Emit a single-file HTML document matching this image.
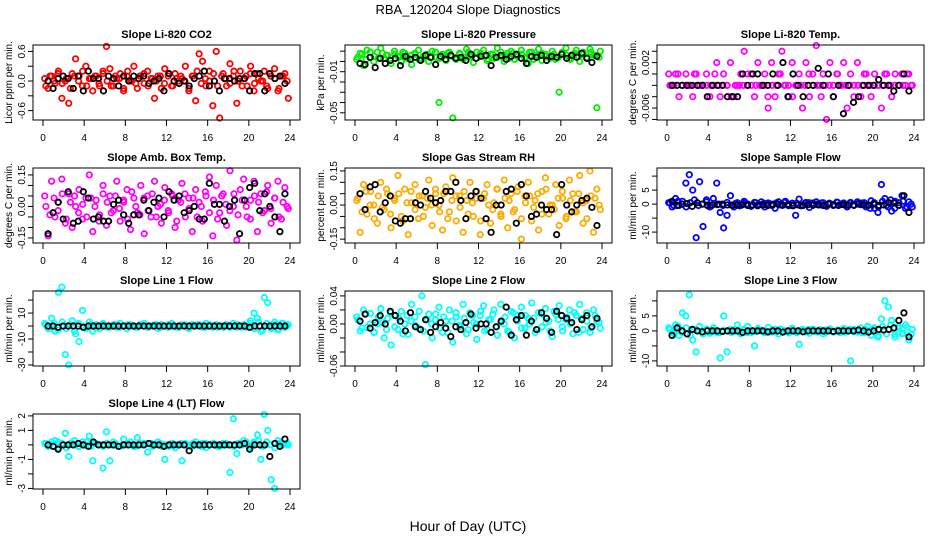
<!DOCTYPE html>
<html><head><meta charset="utf-8"><style>
html,body{margin:0;padding:0;background:#fff;}
svg{display:block;font-family:"Liberation Sans",sans-serif;}
</style></head><body>
<svg id="chart" width="936" height="540" viewBox="0 0 936 540">
<text x="468" y="14" text-anchor="middle" font-size="13">RBA_120204  Slope Diagnostics</text>
<text x="468" y="531" text-anchor="middle" font-size="14">Hour of Day (UTC)</text>
</svg>
<script>
// ---- data ----
const xTicks = [0,4,8,12,16,20,24];
const co2Color = [0.05,-0.15,0.1,-0.05,0.2,-0.35,0.0,-0.45,0.15,0.45,0.1,-0.1,0.3,0.05,-0.2,0.1,-0.1,0.2,0.7,0.25,-0.1,0.05,0.15,-0.2,0.1,0.0,0.3,-0.15,0.1,-0.05,0.2,0.05,-0.35,0.1,-0.15,0.25,0.1,-0.1,0.15,0.0,0.05,0.3,-0.2,0.1,-0.4,0.55,0.4,-0.1,0.2,-0.5,0.6,-0.75,0.15,-0.1,0.35,0.1,-0.45,0.2,0.05,-0.1,0.3,-0.2,0.15,0.0,0.2,-0.15,0.1,0.25,-0.2,0.1,0.15,-0.35];
const co2Band = [-0.1,0.1,0.0,0.15,-0.05,0.05,-0.15,0.1,0.0,0.2,-0.1,0.05,0.1,-0.05,0.15,0.0,-0.1,0.1,0.05,-0.15,0.2,0.0,-0.05,0.1,0.15,-0.1,0.05,0.0,0.1,-0.05,0.15,-0.1,0.05,0.1,0.0,-0.15,0.1,0.2,-0.05,0.05,0.0,0.15,-0.1,0.1,0.05,-0.05,0.2,0.0,-0.1,0.1,0.15,-0.05,0.05,0.0,-0.1,0.1,0.05,-0.15,0.1,0.0];
const co2Black = [0.0,-0.15,0.05,0.1,0.05,-0.15,0.1,-0.2,0.2,0.05,0.05,-0.2,0.1,0.05,-0.1,0.1,0.0,0.1,0.05,0.1,-0.05,0.0,0.05,-0.2,0.15,0.0,-0.05,0.0,-0.1,0.05,0.1,0.2,-0.1,0.0,-0.2,0.05,0.05,0.0,0.05,0.05,-0.2,0.15,0.15,-0.2,0.15,0.05,0.1,-0.05];
const presColor = [0.002,0.008,-0.004,0.011,0.004,0.0,0.009,0.013,0.003,0.006,-0.002,0.01,0.005,0.0,0.008,0.003,-0.003,0.007,0.011,0.002,0.006,0.0,0.01,0.004,-0.04,0.007,0.001,0.009,-0.055,0.004,0.008,0.002,0.012,0.005,-0.001,0.009,0.006,0.011,0.001,0.007,0.003,0.013,0.005,0.0,0.008,0.01,0.002,0.006,0.011,0.003,-0.002,0.009,0.005,0.012,0.001,0.007,0.004,0.01,0.002,-0.03,0.008,0.013,0.003,0.006,0.011,0.0,0.009,0.004,0.012,0.006,-0.045,0.01];
const presBand = [0.004,0.007,0.002,0.009,0.005,0.003,0.008,0.006,0.001,0.007,0.004,0.009,0.003,0.006,0.008,0.002,0.005,0.007,0.004,0.009,0.003,0.006,0.008,0.005,0.002,0.007,0.004,0.009,0.006,0.003,0.008,0.005,0.002,0.007,0.004,0.009,0.006,0.003,0.008,0.005,0.007,0.004,0.009,0.002,0.006,0.008,0.005,0.003,0.007,0.004,0.009,0.006,0.002,0.008,0.005,0.007,0.003,0.009,0.006,0.004];
const presBlack = [-0.002,-0.003,0.004,-0.006,0.003,-0.002,0.001,0.003,-0.004,0.005,0.002,0.004,0.001,0.006,0.004,-0.003,0.005,0.002,0.006,0.003,0.004,0.001,0.007,0.003,0.005,0.006,-0.004,0.004,0.006,0.002,0.005,0.007,0.003,-0.002,0.005,0.004,0.006,0.001,0.005,0.004,0.007,0.003,0.006,0.004,0.008,0.003,-0.001,0.005];
const tempColor = [0.0,-0.002,0.0,-0.004,-0.002,0.0,-0.002,-0.004,0.0,-0.002,-0.002,0.0,-0.004,-0.002,0.002,-0.004,0.0,-0.002,0.002,-0.004,-0.002,0.0,0.004,-0.002,0.0,-0.004,0.002,-0.002,0.0,-0.006,0.002,-0.004,0.0,0.004,-0.002,-0.004,0.002,-0.002,0.0,-0.006,0.002,-0.004,0.0,0.005,-0.002,0.0,-0.008,0.002,-0.004,0.0,-0.002,0.002,-0.006,0.0,-0.002,0.002,-0.004,0.0,-0.002,-0.004,0.0,-0.002,-0.006,0.0,-0.002,-0.004,0.0,-0.002,0.0,-0.002,0.0,-0.002];
const tempBand = [-0.002,-0.002,0.0,-0.002,-0.002,-0.002,0.0,-0.002,-0.002,-0.002,-0.002,0.0,-0.002,-0.002,-0.002,-0.004,-0.002,-0.002,-0.002,0.0,-0.002,-0.002,-0.002,-0.002,-0.004,-0.002,-0.002,0.0,-0.002,-0.002,-0.004,-0.002,-0.002,-0.002,0.0,-0.002,-0.002,-0.004,-0.002,-0.002,-0.002,0.0,-0.002,-0.002,-0.002,-0.004,-0.002,-0.002,0.0,-0.002,-0.002,-0.002,-0.002,0.0,-0.002,-0.002,-0.002,-0.002,0.0,-0.002];
const tempBlack = [-0.002,-0.002,-0.002,-0.002,-0.002,-0.002,-0.002,-0.004,-0.002,-0.002,-0.002,-0.004,-0.004,-0.004,0.0,-0.002,0.0,0.0,-0.002,-0.002,0.0,-0.002,0.002,-0.004,0.0,-0.002,-0.004,-0.002,-0.002,0.001,-0.002,0.0,-0.004,-0.002,-0.007,-0.002,-0.005,-0.004,-0.002,-0.002,-0.002,-0.001,-0.002,-0.002,-0.003,-0.002,0.0,-0.003];
const ambColor = [0.05,-0.14,0.12,-0.05,0.02,0.13,-0.08,0.06,-0.1,0.0,0.08,-0.06,0.04,0.15,-0.12,0.03,-0.04,0.1,-0.09,0.05,-0.02,0.12,-0.07,0.02,0.08,-0.11,0.04,-0.03,0.1,-0.13,0.05,-0.05,0.12,0.0,-0.08,0.09,-0.02,0.06,-0.1,0.03,0.11,-0.05,0.04,-0.12,0.08,0.02,-0.07,0.05,0.14,-0.14,0.1,-0.03,0.06,-0.09,0.17,0.0,-0.16,0.08,0.13,-0.05,0.03,0.12,-0.12,0.06,-0.02,0.1,-0.08,0.04,0.12,-0.06,0.09,-0.01];
const ambBand = [0.0,-0.04,0.04,-0.02,0.06,-0.06,0.02,0.05,-0.03,0.01,-0.05,0.04,0.0,-0.07,0.06,0.02,-0.03,0.05,-0.01,0.03,-0.06,0.07,0.0,-0.04,0.04,-0.02,0.06,-0.05,0.01,0.03,-0.03,0.05,-0.07,0.02,0.06,-0.01,0.04,-0.05,0.0,0.07,-0.03,0.03,-0.06,0.05,0.01,-0.02,0.06,-0.04,0.03,0.0,-0.06,0.05,0.02,-0.03,0.07,-0.01,0.04,-0.05,0.02,0.0];
const ambBlack = [-0.13,-0.03,0.02,-0.06,0.07,-0.08,-0.07,0.07,0.04,-0.06,-0.05,-0.07,-0.07,0.01,0.03,-0.04,-0.08,-0.04,-0.04,0.03,-0.02,0.02,0.04,-0.05,0.07,0.03,0.05,-0.03,-0.02,0.0,-0.06,-0.06,0.11,0.01,0.01,-0.07,0.0,0.03,-0.13,0.03,0.09,0.11,-0.02,0.06,0.0,-0.05,-0.12,0.06];
const rhColor = [0.02,-0.12,0.09,-0.04,0.06,0.0,-0.08,0.1,-0.02,0.05,-0.1,0.03,0.13,-0.05,0.07,-0.13,0.01,0.09,-0.06,0.04,-0.01,0.11,-0.09,0.05,0.0,-0.11,0.08,-0.03,0.12,-0.07,0.04,-0.12,0.02,0.1,-0.05,0.06,-0.13,0.03,0.09,-0.08,0.01,0.07,-0.04,0.11,-0.1,0.05,-0.02,0.08,-0.15,0.04,0.1,-0.07,0.02,-0.11,0.06,0.12,-0.04,0.0,0.09,-0.09,0.03,-0.06,0.11,0.05,-0.03,0.13,-0.08,0.02,0.15,-0.12,0.07,-0.02];
const rhBand = [0.03,-0.03,0.06,0.0,-0.06,0.04,-0.01,0.07,-0.04,0.02,0.05,-0.07,0.01,0.06,-0.02,0.04,-0.05,0.03,0.0,0.07,-0.03,0.05,-0.06,0.02,0.04,-0.01,0.06,-0.04,0.01,0.03,-0.07,0.05,0.0,-0.02,0.07,-0.05,0.03,0.02,-0.03,0.06,-0.06,0.01,0.04,-0.01,0.05,-0.04,0.07,0.0,-0.02,0.03,0.06,-0.05,0.02,-0.03,0.05,0.01,-0.06,0.04,0.03,0.0];
const rhBlack = [0.05,-0.02,0.08,0.09,-0.03,0.01,0.04,-0.07,-0.08,-0.06,-0.06,0.01,0.0,0.06,0.03,0.01,0.02,0.06,0.06,0.1,0.02,-0.06,0.04,0.06,0.03,-0.06,-0.12,0.0,0.0,0.06,0.07,-0.08,0.09,0.04,-0.05,-0.04,0.0,-0.02,-0.02,-0.13,0.09,0.0,-0.03,0.0,0.02,0.03,-0.01,-0.09];
const sampleColor = [0.5,-1,2,-0.5,1,7.5,10.5,5,-12,8,-8,1.5,-1,2,7.5,-3,-8.5,-4,3,-1,0.5,-0.5,1,0,-0.8,0.6,-0.3,0.8,-1,0.4,0,-1.5,0.8,-0.4,1,-0.6,0.3,-4,1.8,-0.5,0.6,-1.2,0.4,0.8,-0.3,0.5,-0.8,0.2,-0.5,0.7,-0.2,0.4,-1,0.6,-0.4,0.8,-0.2,0.5,-0.6,1.2,-1.5,-3,7,2,-1,-2.5,1,-0.5,3,-1.5,0.8,-1];
const sampleBand = [0.5,-0.5,1,0,-1,0.5,1.5,-0.5,0,0.8,-0.8,0.3,0,-0.5,0.6,-0.3,0.2,-0.6,0.4,0,-0.4,0.5,-0.2,0.3,0,-0.5,0.4,-0.3,0.6,0,-0.4,0.3,-0.6,0.2,0.5,-0.2,0,0.4,-0.5,0.3,-0.2,0.6,0,-0.4,0.3,-0.5,0.2,0.4,-1,-1.5,0.5,-1,1,-0.5,1.5,-1.5,0.5,1,-1,0];
const sampleBlack = [1,-0.5,0,0.2,-0.8,0.5,0,-0.5,-0.3,-0.2,0,-0.3,-0.5,-0.3,-0.2,-0.5,-0.3,-0.6,-0.3,-0.5,-0.2,0,-0.4,-0.3,-0.6,-0.3,-0.5,-0.2,-0.4,-0.3,-0.5,0,-0.3,-0.5,-0.2,-0.4,-0.3,0,-0.3,-0.4,0,-0.5,-0.3,0.5,0.5,-0.5,3,-3];
const l1Color = [2,-2,6,-4,26,30,-22,-30,4,-6,-12,12,-2,3,-4,1,-2,2,0,-1,1,-1,2,0,-2,1,0,-1,1,2,-1,0,1,-2,1,0,-1,2,0,-1,1,0,-2,1,0,1,-1,2,0,-1,1,0,-1,1,0,2,-1,0,1,-1,4,10,6,-4,22,18,-2,3,-3,2,-1,1];
const l1Band = [1,-1,2,-3,3,-2,1,-4,2,0,-1,1,-1,0,1,-1,0,1,-1,0,1,0,-1,1,0,-1,0,1,-1,0,1,0,-1,0,1,-1,0,1,0,-1,1,0,-1,0,1,-1,0,1,-1,0,2,-2,3,-3,2,-1,1,-2,2,0];
const l1Black = [0,0,-1,0,0,0,0,-1,0,0,0,0,0,0,0,0,0,0,0,0,0,0,0,0,0,0,0,0,0,0,0,0,0,0,0,0,0,0,0,0,-1,0,0,0,0,0,0,0];
const l2Color = [0.01,-0.01,0.02,-0.005,0.015,-0.012,0.0,0.022,-0.02,0.008,-0.03,0.012,-0.008,0.018,0.0,-0.015,0.028,0.01,-0.006,0.04,-0.058,0.014,-0.02,0.006,0.024,-0.012,0.004,0.02,-0.026,0.01,-0.004,0.028,-0.014,0.016,0.002,-0.022,0.012,0.026,-0.008,0.006,0.02,-0.016,0.028,0.0,-0.01,0.018,-0.02,0.012,0.024,-0.006,0.008,0.03,-0.012,0.016,-0.004,0.022,0.004,-0.018,0.014,0.026,-0.01,0.006,0.02,-0.014,0.012,0.028,-0.008,0.016,-0.012,0.02,0.004,-0.006];
const l2Band = [0.006,-0.006,0.014,0.0,-0.012,0.01,0.002,-0.008,0.016,-0.004,0.008,-0.014,0.012,0.004,-0.002,0.018,-0.01,0.006,0.0,0.014,-0.006,0.01,-0.012,0.004,0.016,-0.002,0.008,-0.008,0.012,0.0,0.018,-0.01,0.006,0.014,-0.004,0.002,0.01,-0.012,0.016,0.004,-0.006,0.012,0.0,0.008,-0.008,0.014,0.002,-0.01,0.018,0.006,-0.004,0.01,0.0,0.016,-0.012,0.008,0.004,-0.006,0.012,0.002];
const l2Black = [0.004,0.014,-0.006,0.002,0.012,0.0,0.018,0.012,0.004,-0.01,0.016,-0.004,-0.008,0.006,-0.012,-0.004,0.002,-0.006,-0.018,-0.004,-0.008,0.002,0.014,-0.006,0.0,0.0,-0.012,-0.004,0.004,0.024,-0.016,0.006,0.012,-0.016,0.004,-0.008,0.016,0.008,-0.012,0.018,0.012,0.008,0.002,-0.008,0.006,0.012,-0.004,0.008];
const l3Color = [1,-0.5,2,-1.5,6,5,12,-3,-7,1.5,-1,0.5,-0.8,1,-0.5,-9,5,-7,0.5,-0.3,2,-1,0.3,1.5,-0.5,-5,0.8,0,-0.6,1.2,-0.4,0.5,-1,0.3,0,-0.7,0.9,-0.3,-4.5,0.5,0,-0.8,0.6,-0.2,0.4,-1,0.3,0.7,-0.4,0.2,-0.6,0.8,-0.2,-10,0.5,-0.4,1,-0.6,1.5,-1.5,0.8,-2,4,10,8,3.5,-2,1.5,-1,2,-3,0.5];
const l3Band = [0.5,-1,1.5,-0.5,1,-1.5,0.5,0,-0.8,0.6,-0.4,0.3,-0.6,0.2,0,-0.5,0.4,-0.3,0.5,-0.6,0.2,-0.2,0.4,0,-0.5,0.3,-0.4,0.6,-0.2,0,0.4,-0.6,0.3,-0.3,0.5,0,-0.4,0.2,-0.5,0.6,-0.2,0.3,0,-0.4,0.5,-0.3,0.2,-0.6,0.4,0,1,-1.5,1.5,-1,2,-1.2,0.8,-0.8,1.2,-1];
const l3Black = [-1.5,1,0,-1,0.5,0,-0.3,0,0,0,-0.2,0,0,0,-0.5,0,0,0,0,-0.3,0,0,-0.4,0,0,0,-0.3,0,0,0,0,0,-0.2,0,0,0,0,0.3,0,-0.4,0,0.5,0.3,0.5,1,3.5,6,-2];
const l4Color = [0.1,-0.1,0.2,0.3,-0.2,0.1,0.8,-0.8,0.1,0,-0.1,0.2,0,0.6,-1.1,0.1,0,-1.6,0.9,-1.1,0.2,0,-0.1,0.4,0,0.2,-0.1,0.5,0,0.1,-0.5,0.1,0,0.2,-0.1,-1,0,0.1,-0.2,0,-1.1,0.1,0,-0.1,0.2,0,0.1,-0.2,0,0.1,0,-0.1,0.1,0,-1.9,1.8,-0.6,0.1,0.3,0,-0.1,0.2,0.7,-1,2.1,1,-2.4,-3,0.3,0,0.1,0];
const l4Band = [0.1,0,-0.1,0.2,0,-0.2,0.1,0.3,-0.1,0,0.2,-0.1,0.1,0,-0.1,0.1,0,0.1,-0.1,0,0.1,0,-0.1,0.1,0,0.1,-0.1,0,0.1,0,-0.1,0.1,0,0.1,0,-0.1,0.1,0,-0.1,0.1,0,0.1,-0.1,0,0.1,0,-0.1,0.1,0,0.2,-0.2,0.1,0.3,-0.1,0.2,0,-0.2,0.1,0,0.1];
const l4Black = [0,-0.1,-0.3,0,0,0,0.1,0,-0.1,0.2,0,0,0,0,-0.1,0,0,0,0,0,0.1,0,0,-0.1,0,0,0,0,-0.4,0,0,0,0,0,0,0,0,0,0,0.1,-0.3,0,0,0,-0.8,0.1,-0.1,0.4];
const panelColors = ["#ff0000","#00ee00","#ff00ff","#ff00ff","#ffaa00","#0000ff","#00ffff","#00ffff","#00ffff","#00ffff"];

// ---- panels ----
const panels = [
 {name:"co2",title:"Slope Li-820 CO2",yl:"Licor ppm per min.",c:co2Color,d:co2Band,b:co2Black,ymin:-0.79,ymax:0.73,ticks:[-0.6,-0.3,0,0.3,0.6],labs:["-0.6","","0.0","","0.6"]},
 {name:"pressure",title:"Slope Li-820 Pressure",yl:"kPa per min.",c:presColor,d:presBand,b:presBlack,ymin:-0.057,ymax:0.016,ticks:[-0.05,-0.04,-0.03,-0.02,-0.01,0,0.01],labs:["-0.05","","","","-0.01","",""]},
 {name:"temp",title:"Slope Li-820 Temp.",yl:"degrees C per min.",c:tempColor,d:tempBand,b:tempBlack,ymin:-0.0081,ymax:0.0051,ticks:[-0.008,-0.006,-0.004,-0.002,0,0.002,0.004],labs:["","-0.006","","","","0.002",""]},
 {name:"amb-temp",title:"Slope Amb. Box Temp.",yl:"degrees C per min.",c:ambColor,d:ambBand,b:ambBlack,ymin:-0.174,ymax:0.183,ticks:[-0.15,-0.1,-0.05,0,0.05,0.1,0.15],labs:["-0.15","","","0.00","","","0.15"]},
 {name:"gas-rh",title:"Slope Gas Stream RH",yl:"percent per min.",c:rhColor,d:rhBand,b:rhBlack,ymin:-0.167,ymax:0.163,ticks:[-0.15,-0.1,-0.05,0,0.05,0.1,0.15],labs:["-0.15","","","0.00","","","0.15"]},
 {name:"sample-flow",title:"Slope Sample Flow",yl:"ml/min per min.",c:sampleColor,d:sampleBand,b:sampleBlack,ymin:-13.9,ymax:12.9,ticks:[-10,-5,0,5,10],labs:["-10","","0","5",""]},
 {name:"line1",title:"Slope Line 1 Flow",yl:"ml/min per min.",c:l1Color,d:l1Band,b:l1Black,ymin:-30.8,ymax:27,ticks:[-30,-20,-10,0,10,20],labs:["-30","","-10","","10",""]},
 {name:"line2",title:"Slope Line 2 Flow",yl:"ml/min per min.",c:l2Color,d:l2Band,b:l2Black,ymin:-0.06,ymax:0.047,ticks:[-0.06,-0.04,-0.02,0,0.02,0.04],labs:["-0.06","","","0.00","","0.04"]},
 {name:"line3",title:"Slope Line 3 Flow",yl:"ml/min per min.",c:l3Color,d:l3Band,b:l3Black,ymin:-11.7,ymax:13.3,ticks:[-10,-5,0,5,10],labs:["-10","","0","5",""]},
 {name:"line4",title:"Slope Line 4 (LT) Flow",yl:"ml/min per min.",c:l4Color,d:l4Band,b:l4Black,ymin:-3.04,ymax:2.13,ticks:[-3,-2,-1,0,1,2],labs:["-3","","-1","","1","2"]}
];

const NS="http://www.w3.org/2000/svg";
const svg=document.getElementById('chart');
function mk(tag,attrs,parent){const e=document.createElementNS(NS,tag);for(const k in attrs)e.setAttribute(k,attrs[k]);parent.appendChild(e);return e;}

panels.forEach((p,idx)=>{
  const col=idx%3,row=Math.floor(idx/3);
  const L=33+col*312,R=300+col*312,T=45+row*123,B=120+row*123;
  const xs=h=>L+10+h*(247/24);
  const ys=v=>B-(v-p.ymin)/(p.ymax-p.ymin)*(B-T);
  const g=mk('g',{},svg);
  
  
  const t=mk('text',{x:(L+R)/2,y:T-7,'text-anchor':'middle','font-size':'11','font-weight':'bold'},g);
  t.textContent=p.title;
  
  
  const yt=mk('text',{x:0,y:0,'text-anchor':'middle','font-size':'10',transform:`translate(${L-21},${(T+B)/2}) rotate(-90)`},g);
  yt.textContent=p.yl;
  
  
  // points
  const pg=mk('g',{fill:'none','stroke-width':'1.8'},g);
  
  
  p.d.forEach((v,i)=>{
    const h=(i+0.7)*24/(p.d.length+0.4);
    const c=mk('circle',{cx:xs(h),cy:ys(v),r:2.7,stroke:panelColors[idx]},pg);
    
    
  });
  p.c.forEach((v,i)=>{
    const h=(i+0.5)*24/p.c.length;
    const c=mk('circle',{cx:xs(h),cy:ys(v),r:2.7,stroke:panelColors[idx]},pg);
    
    
  });
  p.b.forEach((v,i)=>{
    const h=(i+1)*24/(p.b.length+1);
    const c=mk('circle',{cx:xs(h),cy:ys(v),r:2.7,stroke:'#000'},pg);
    
    
  });
  // box
  const box=mk('rect',{x:L,y:T,width:R-L,height:B-T,fill:'none',stroke:'#000','stroke-width':'1'},g);
  
  
  // x axis
  xTicks.forEach(h=>{
    mk('line',{x1:xs(h),x2:xs(h),y1:B,y2:B+6,stroke:'#000'},g);
    const tx=mk('text',{x:xs(h),y:B+21,'text-anchor':'middle','font-size':'10'},g);
    tx.textContent=h;
    
    
  });
  // y axis
  p.ticks.forEach((v,i)=>{
    mk('line',{x1:L-5,x2:L,y1:ys(v),y2:ys(v),stroke:'#000'},g);
    if(p.labs[i]){
      const ty=mk('text',{x:0,y:0,'text-anchor':'middle','font-size':'10',transform:`translate(${L-8},${ys(v)}) rotate(-90)`},g);
      ty.textContent=p.labs[i];
      
      
    }
  });
});
</script>
</body></html>
